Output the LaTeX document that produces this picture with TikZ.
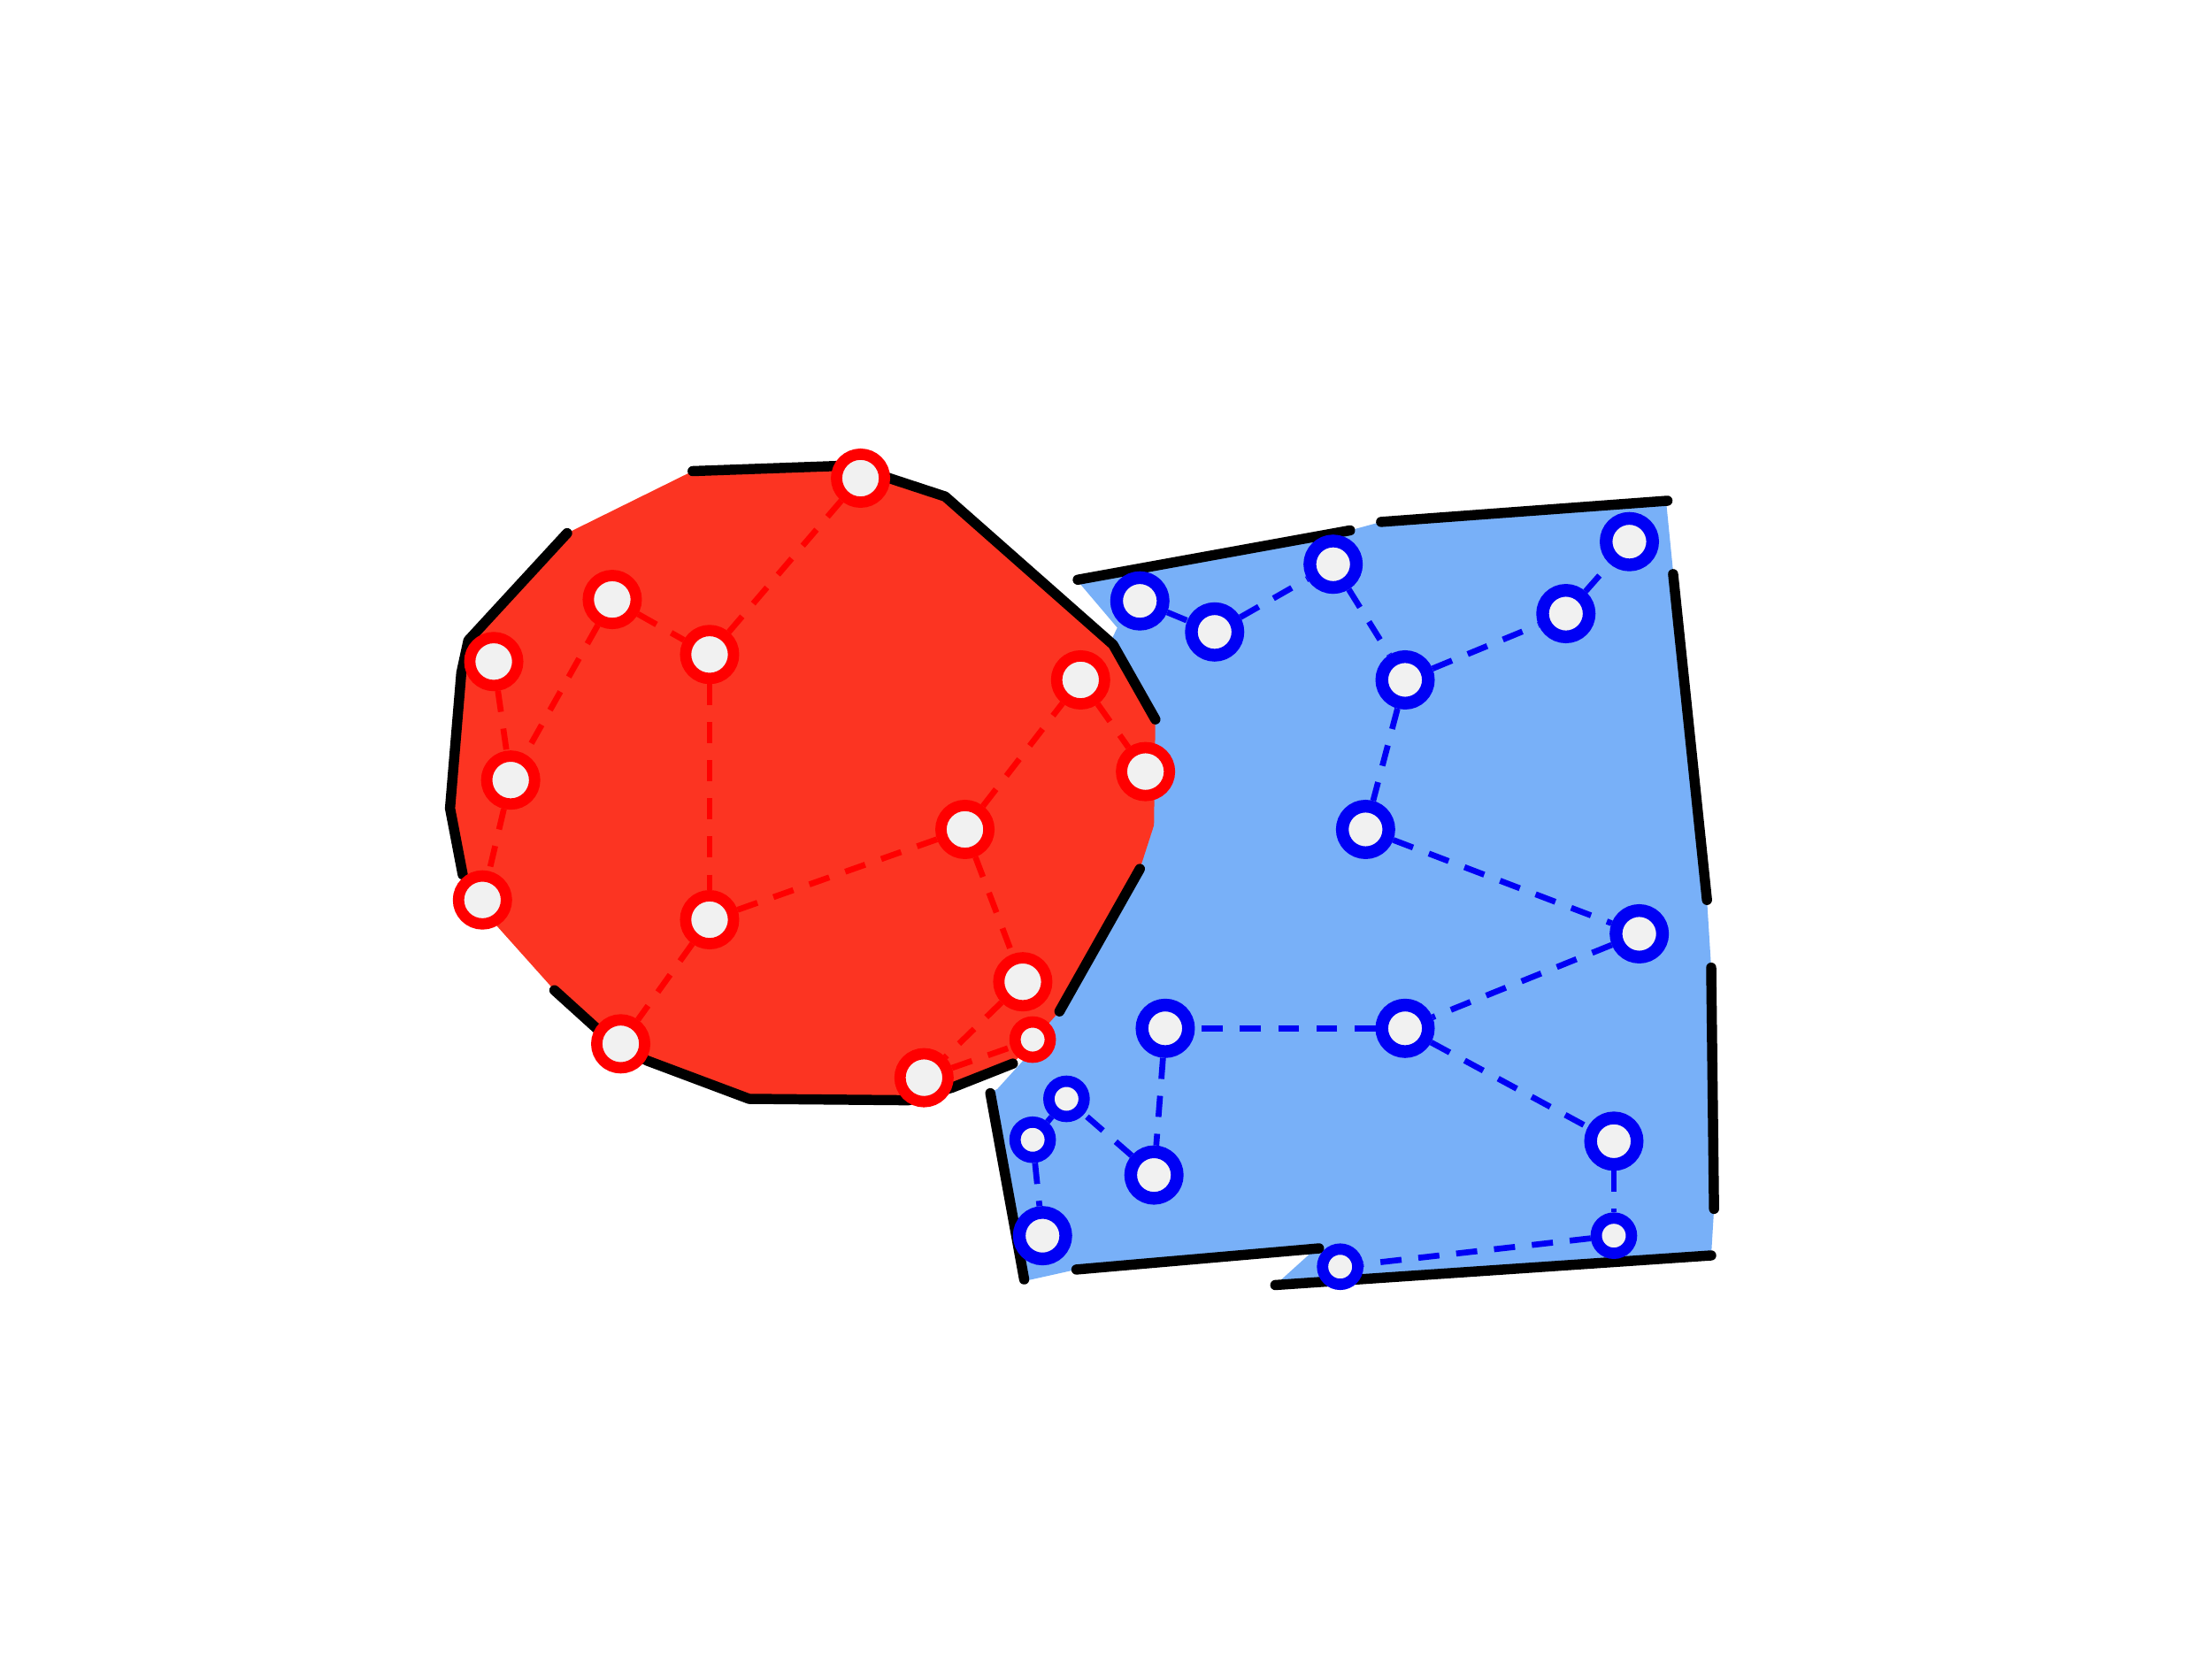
\documentclass[tikz,border=0pt]{standalone}
\definecolor{redfill}{RGB}{252,52,34}
\definecolor{bluefill}{RGB}{120,176,248}
\definecolor{nodegray}{RGB}{241,241,241}
\definecolor{ringred}{RGB}{255,0,0}
\definecolor{ringblue}{RGB}{0,0,245}
\begin{document}
\begin{tikzpicture}[x=0.1mm,y=-0.1mm,
  rv/.style={circle,draw=ringred,fill=nodegray,line width=0.8mm,minimum size=3.4mm,inner sep=0pt},
  rvs/.style={rv,minimum size=2.5mm},
  bv/.style={circle,draw=ringblue,fill=nodegray,line width=0.9mm,minimum size=3.3mm,inner sep=0pt},
  bvs/.style={bv,line width=0.8mm,minimum size=2.5mm},
  redge/.style={ringred,line width=0.42mm,dash pattern=on 1.5mm off 1.2mm},
  bedge/.style={ringblue,line width=0.42mm,dash pattern=on 1.5mm off 1.2mm},
  rim/.style={line width=0.72mm,line cap=round,line join=round}]
\useasboundingbox[fill=white] (0,0) rectangle (1568,1175);
\fill[bluefill] (764,412)--(957,376)--(979,370)--(1181,355)--(1186,405)--(1210,638)--(1213,686)--(1215,857)--(1213,890)--(904,911)--(935,883)--(763,900)--(727,908)--(701,775)--(707,772)--(746,729)--(740,718)--(785,620)--(780,470)--(792,445)--cycle;
\fill[redfill] (491,334)--(603,330)--(670,352)--(789,457)--(819,510)--(818,585)--(808,616)--(751,717)--(718,754)--(675,771)--(644,780)--(531,779)--(459,752)--(435,740)--(393,702)--(342,645)--(328,620)--(319,573)--(327,477)--(332,454)--(402,378)--cycle;
\draw[rim] (491,334)--(603,330)--(670,352)--(789,457)--(819,510);
\draw[rim] (808,616)--(751,717);
\draw[rim] (393,702)--(435,740)--(459,752)--(531,779)--(644,780)--(675,771)--(718,754);
\draw[rim] (328,620)--(319,573)--(327,477)--(332,454)--(402,378);
\draw[rim] (764,411)--(957,376);
\draw[rim] (979,370)--(1182,355);
\draw[rim] (1186,407)--(1210,638);
\draw[rim] (1213,686)--(1215,857);
\draw[rim] (904,911)--(1213,890);
\draw[rim] (763,900)--(935,885);
\draw[rim] (702,775)--(726,907);
\node[rv] (r1) at (610,339) {};
\node[rv] (r2) at (434,425) {};
\node[rv] (r3) at (503,464) {};
\node[rv] (r4) at (350,469) {};
\node[rv] (r5) at (766,482) {};
\node[rv] (r6) at (812,547) {};
\node[rv] (r7) at (362,553) {};
\node[rv] (r8) at (684,588) {};
\node[rv] (r9) at (342,638) {};
\node[rv] (r10) at (503,652) {};
\node[rv] (r11) at (725,696) {};
\node[rvs] (r12) at (732,737) {};
\node[rv] (r13) at (440,740) {};
\node[rv] (r14) at (655,764) {};
\node[bv] (b1) at (808,426) {};
\node[bv] (b2) at (861,448) {};
\node[bv] (b3) at (945,400) {};
\node[bv] (b4) at (1155,384) {};
\node[bv] (b5) at (1110,435) {};
\node[bv] (b6) at (996,482) {};
\node[bv] (b7) at (968,588) {};
\node[bv] (b8) at (1162,662) {};
\node[bv] (b9) at (826,729) {};
\node[bv] (b10) at (996,729) {};
\node[bvs] (b11) at (756,779) {};
\node[bvs] (b12) at (732,808) {};
\node[bv] (b13) at (818,833) {};
\node[bv] (b14) at (1144,809) {};
\node[bv] (b15) at (739,876) {};
\node[bvs] (b16) at (1144,876) {};
\node[bvs] (b17) at (950,898) {};
\draw[redge] (r1)--(r3);
\draw[redge] (r2)--(r3);
\draw[redge] (r2)--(r7);
\draw[redge] (r4)--(r7);
\draw[redge] (r7)--(r9);
\draw[redge] (r3)--(r10);
\draw[redge] (r10)--(r8);
\draw[redge] (r10)--(r13);
\draw[redge] (r8)--(r5);
\draw[redge] (r5)--(r6);
\draw[redge] (r8)--(r11);
\draw[redge] (r11)--(r14);
\draw[redge] (r14)--(r12);
\draw[bedge] (b1)--(b2);
\draw[bedge] (b2)--(b3);
\draw[bedge] (b3)--(b6);
\draw[bedge] (b6)--(b5);
\draw[bedge] (b5)--(b4);
\draw[bedge] (b6)--(b7);
\draw[bedge] (b7)--(b8);
\draw[bedge] (b8)--(b10);
\draw[bedge] (b10)--(b9);
\draw[bedge] (b10)--(b14);
\draw[bedge] (b9)--(b13);
\draw[bedge] (b13)--(b11);
\draw[bedge] (b11)--(b12);
\draw[bedge] (b12)--(b15);
\draw[bedge] (b14)--(b16);
\draw[bedge] (b16)--(b17);
\end{tikzpicture}
\end{document}
